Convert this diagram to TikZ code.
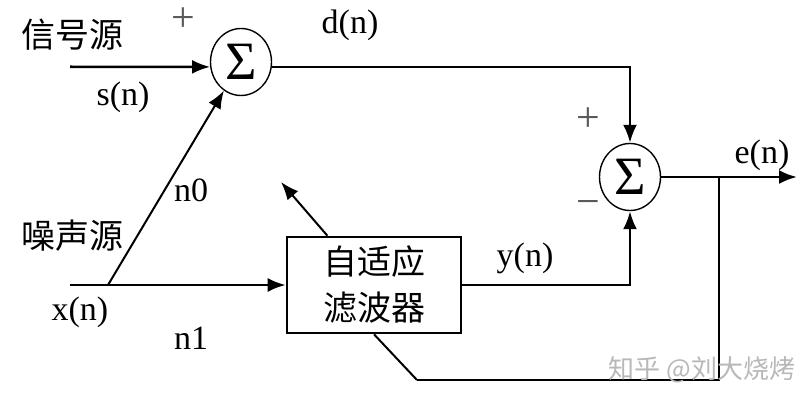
\documentclass[tikz,border=0pt]{standalone}
\usepackage{fontspec}
\setmainfont{Liberation Serif}
\newfontfamily\cjk{Noto Sans CJK SC}
\usetikzlibrary{arrows.meta,shapes.geometric,calc}
\begin{document}
\begin{tikzpicture}[x=1pt,y=-1pt,
  ln/.style={line width=2.6pt},
  thinln/.style={line width=2pt},
  arr/.style={ln,-{Latex[length=18pt,width=14pt]}},
  thinarr/.style={thinln,-{Latex[length=18pt,width=14pt]}},
  sumnode/.style={draw,ellipse,line width=1.4pt,minimum width=61pt,minimum height=67pt,inner sep=0pt,font=\fontsize{54}{54}\selectfont},
  lbl/.style={font=\fontsize{34}{40}\selectfont,inner sep=0pt},
  cn/.style={font=\cjk\fontsize{34}{46}\selectfont,inner sep=0pt},
  sign/.style={font=\fontsize{42}{42}\selectfont,text=black!65,inner sep=0pt}]
\useasboundingbox (0,0) rectangle (809,401);
\fill[white] (0,0) rectangle (809,401);

% blocks
\node[sumnode] (s1) at (241,62) {\raisebox{-5pt}{Σ}};
\node[sumnode] (s2) at (630,177) {\raisebox{-3pt}{Σ}};
\node[draw,line width=2.6pt,minimum width=174pt,minimum height=96pt,align=center,cn,inner sep=2pt] (f) at (374,285) {自适应\\滤波器};

% coordinates
\coordinate (sin) at (70,66.8);
\coordinate (xin) at (70,285);
\coordinate (xs) at (108,285);
\coordinate (eend) at (797,177);
\coordinate (j) at (719,177);
\coordinate (bl) at (417,380);
\coordinate (ftop) at ($(f.north west)!0.236!(f.north east)$);
\coordinate (adj) at (281,182);

% connectors
\draw[arr] (sin) -- (s1.189);
\draw[thinarr] (xs) -- (s1);
\draw[arr] (xin) -- (f.west);
\draw[arr] (s1.-9) -| (s2.north);
\draw[arr] (f.east) -| (s2.south);
\draw[arr] (s2.east) -- (eend);
\draw[ln] (j) |- (bl);
\draw[thinln] (bl) -- (f.south);
\draw[thinarr] (ftop) -- (adj);

% labels
\node[cn] (t1) at (72,35) {信号源};
\node[sign] (p1) at (183,20) {+};
\node[lbl] (sn) at (123,97) {s(n)};
\node[lbl] (dn) at (350,25) {d(n)};
\node[lbl] (n0) at (191,190) {n0};
\node[cn] (t2) at (72,236) {噪声源};
\node[lbl] (xn) at (80,312) {x(n)};
\node[lbl] (n1) at (191,338) {n1};
\node[lbl] (yn) at (525,258) {y(n)};
\node[sign] (p2) at (588,120) {+};
\node[sign] (m2) at (588,208) {−};
\node[lbl] (en) at (762,155) {e(n)};
\node[font=\cjk\fontsize{26}{26}\selectfont,text=black!28,inner sep=0pt] (wm) at (702,370) {知乎 @刘大烧烤};
\end{tikzpicture}
\end{document}
